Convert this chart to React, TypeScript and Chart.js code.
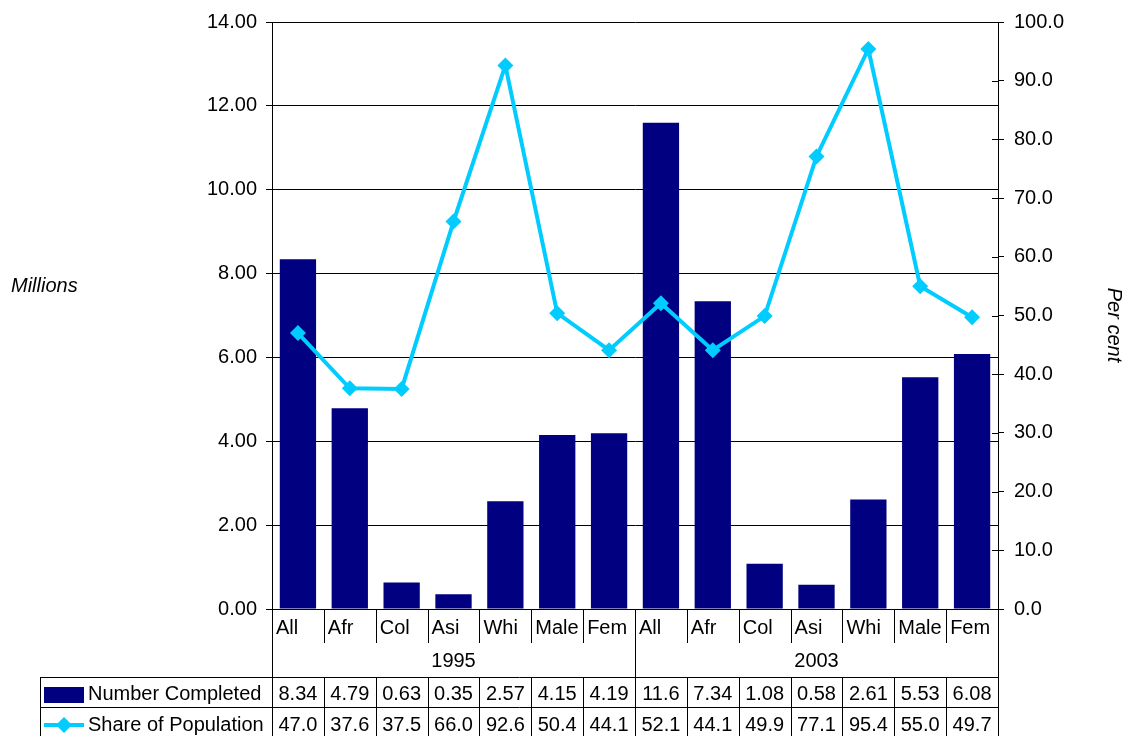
import React, { useEffect, useRef } from "react";
import { Chart, registerables } from "chart.js";

Chart.register(...registerables);

const categories = ["All", "Afr", "Col", "Asi", "Whi", "Male", "Fem", "All", "Afr", "Col", "Asi", "Whi", "Male", "Fem"];
const groups = ["1995", "2003"];
const numberCompleted = [8.34, 4.79, 0.63, 0.35, 2.57, 4.15, 4.19, 11.6, 7.34, 1.08, 0.58, 2.61, 5.53, 6.08];
const shareOfPopulation = [47.0, 37.6, 37.5, 66.0, 92.6, 50.4, 44.1, 52.1, 44.1, 49.9, 77.1, 95.4, 55.0, 49.7];
const numberLabels = ["8.34", "4.79", "0.63", "0.35", "2.57", "4.15", "4.19", "11.6", "7.34", "1.08", "0.58", "2.61", "5.53", "6.08"];
const shareLabels = ["47.0", "37.6", "37.5", "66.0", "92.6", "50.4", "44.1", "52.1", "44.1", "49.9", "77.1", "95.4", "55.0", "49.7"];

const NAVY = "#000080";
const CYAN = "#00CCFF";
const FONT = "'Liberation Sans', Arial, sans-serif";

const tablePlugin = {
  id: "tablePlugin",
  afterDraw(chart: any) {
    const ctx = chart.ctx;
    const area = chart.chartArea;
    const n = categories.length;
    const w = (area.right - area.left) / n;
    const b = (i: number) => area.left + i * w;
    const yAxisBottom = area.bottom;
    const labelRowBottom = 643;
    const tableTop = 677;
    const tableMid = 707;
    const tableBottom = 740;
    const legendLeft = 40;

    ctx.save();
    ctx.strokeStyle = "#000";
    ctx.lineWidth = 1;
    ctx.beginPath();
    // right axis cross ticks (inner part)
    const y1 = chart.scales.y1;
    y1.ticks.forEach((t: any) => {
      const yy = Math.round(y1.getPixelForValue(t.value)) + 0.5;
      ctx.moveTo(area.right - 6, yy);
      ctx.lineTo(area.right, yy);
    });
    for (let i = 0; i <= n; i++) {
      const x = Math.round(b(i)) + 0.5;
      if (i === 0 || i === n || i === 7) {
        ctx.moveTo(x, yAxisBottom);
        ctx.lineTo(x, tableBottom);
      } else {
        ctx.moveTo(x, yAxisBottom);
        ctx.lineTo(x, labelRowBottom);
        ctx.moveTo(x, tableTop);
        ctx.lineTo(x, tableBottom);
      }
    }
    ctx.moveTo(legendLeft + 0.5, tableTop);
    ctx.lineTo(legendLeft + 0.5, tableBottom);
    ctx.moveTo(legendLeft, tableTop + 0.5);
    ctx.lineTo(Math.round(b(n)) + 1, tableTop + 0.5);
    ctx.moveTo(legendLeft, tableMid + 0.5);
    ctx.lineTo(Math.round(b(n)) + 1, tableMid + 0.5);
    ctx.stroke();

    ctx.fillStyle = "#000";
    ctx.font = `20px ${FONT}`;
    ctx.textBaseline = "middle";
    // category labels
    ctx.textAlign = "left";
    categories.forEach((c, i) => {
      ctx.fillText(c, b(i) + 4, 628);
    });
    // group labels
    ctx.textAlign = "center";
    groups.forEach((g, gi) => {
      ctx.fillText(g, (b(gi * 7) + b(gi * 7 + 7)) / 2, 661);
    });
    // values
    numberLabels.forEach((v, i) => ctx.fillText(v, (b(i) + b(i + 1)) / 2, 694));
    shareLabels.forEach((v, i) => ctx.fillText(v, (b(i) + b(i + 1)) / 2, 725));

    // legend
    ctx.fillStyle = NAVY;
    ctx.fillRect(44, 687, 40, 16);
    ctx.fillStyle = "#000";
    ctx.textAlign = "left";
    ctx.fillText("Number Completed", 88, 694);
    ctx.fillText("Share of Population", 88, 725);
    ctx.strokeStyle = CYAN;
    ctx.lineWidth = 4;
    ctx.beginPath();
    ctx.moveTo(44, 725);
    ctx.lineTo(84, 725);
    ctx.stroke();
    ctx.fillStyle = CYAN;
    ctx.beginPath();
    const cx = 64, cy = 725, r = 8;
    ctx.moveTo(cx, cy - r);
    ctx.lineTo(cx + r, cy);
    ctx.lineTo(cx, cy + r);
    ctx.lineTo(cx - r, cy);
    ctx.closePath();
    ctx.fill();

    // axis titles
    ctx.fillStyle = "#000";
    ctx.font = `italic 20px ${FONT}`;
    ctx.textAlign = "left";
    ctx.fillText("Millions", 11, 286);
    ctx.save();
    ctx.translate(1114, 325);
    ctx.rotate(Math.PI / 2);
    ctx.textAlign = "center";
    ctx.fillText("Per cent", 0, 0);
    ctx.restore();
    ctx.restore();
  },
};

export default function App() {
  const ref = useRef<HTMLCanvasElement | null>(null);
  useEffect(() => {
    document.body.style.margin = "0";
    const chart = new Chart(ref.current as HTMLCanvasElement, {
      type: "bar",
      data: {
        labels: categories,
        datasets: [
          {
            type: "line",
            label: "Share of Population",
            data: shareOfPopulation,
            yAxisID: "y1",
            borderColor: CYAN,
            backgroundColor: CYAN,
            borderWidth: 4,
            pointStyle: "rectRot",
            pointRadius: 8,
            pointBorderWidth: 0,
            pointBackgroundColor: CYAN,
            tension: 0,
            order: 0,
          } as any,
          {
            type: "bar",
            label: "Number Completed",
            data: numberCompleted,
            yAxisID: "y",
            backgroundColor: NAVY,
            categoryPercentage: 1,
            barPercentage: 0.7,
            order: 1,
          },
        ],
      },
      options: {
        responsive: false,
        animation: false,
        layout: { padding: { top: 20, bottom: 127, left: 0, right: 0 } },
        plugins: { legend: { display: false }, tooltip: { enabled: false } },
        scales: {
          x: { display: false, offset: true },
          y: {
            position: "left",
            min: 0,
            max: 14,
            ticks: {
              stepSize: 2,
              color: "#000",
              font: { family: FONT, size: 20 },
              padding: 9,
              callback: (v: any) => Number(v).toFixed(2),
            },
            grid: { color: "#000", lineWidth: 1, tickLength: 6, drawTicks: true },
            border: { display: true, color: "#000" },
            afterFit: (s: any) => {
              s.width = 272;
            },
          },
          y1: {
            position: "right",
            min: 0,
            max: 100,
            ticks: {
              stepSize: 10,
              color: "#000",
              font: { family: FONT, size: 20 },
              padding: 10,
              callback: (v: any) => Number(v).toFixed(1),
            },
            grid: { drawOnChartArea: false, color: "#000", tickLength: 6 },
            border: { display: true, color: "#000" },
            afterFit: (s: any) => {
              s.width = 127;
            },
          },
        },
      },
      plugins: [tablePlugin],
    });
    return () => chart.destroy();
  }, []);
  return (
    <div style={{ position: "absolute", left: 0, top: 0, width: 1125, height: 736, background: "#fff" }}>
      <canvas ref={ref} width={1125} height={736} />
    </div>
  );
}
